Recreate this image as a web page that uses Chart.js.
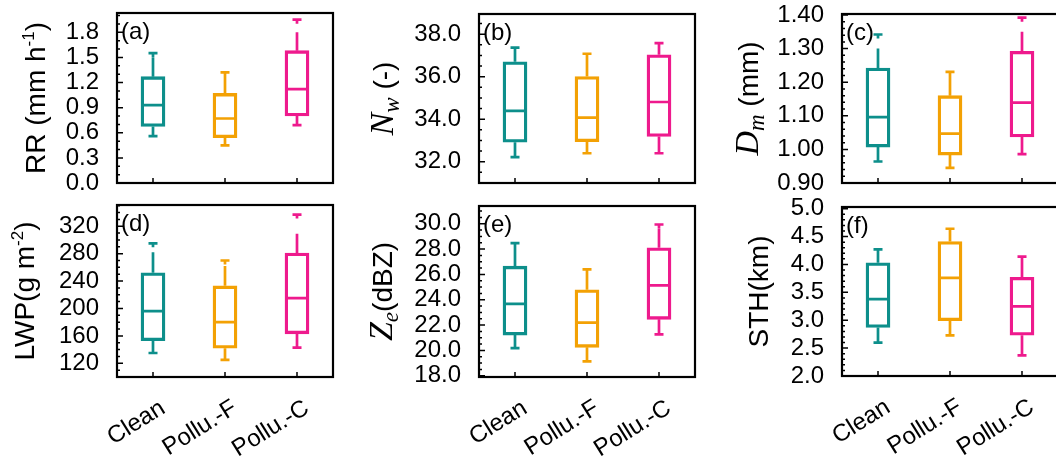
<!DOCTYPE html>
<html>
<head>
<meta charset="utf-8">
<script src="https://cdn.jsdelivr.net/npm/chart.js@4.4.1/dist/chart.umd.min.js"></script>
<style>
  html, body { margin: 0; padding: 0; background: #fff; overflow: hidden; width: 1056px; height: 457px; }
  .panel { position: absolute; }
</style>
</head>
<body>
<div class="panel" style="left:0;top:0;width:345px;height:195px"><canvas id="pa"></canvas></div>
<div class="panel" style="left:345px;top:0;width:360px;height:195px"><canvas id="pb"></canvas></div>
<div class="panel" style="left:705px;top:0;width:365px;height:195px"><canvas id="pc"></canvas></div>
<div class="panel" style="left:0;top:195px;width:345px;height:262px"><canvas id="pd"></canvas></div>
<div class="panel" style="left:345px;top:195px;width:360px;height:262px"><canvas id="pe"></canvas></div>
<div class="panel" style="left:705px;top:195px;width:365px;height:262px"><canvas id="pf"></canvas></div>
<script>
const categories = ["Clean", "Pollu.-F", "Pollu.-C"];
const boxColors = ["#0d8f8b", "#f3a104", "#ee1a8d"];

// per category: [lower whisker, Q1, median, Q3, upper whisker, top mark]
const rrBoxes = [[0.56, 0.675, 0.93, 1.27, 1.50, 1.55], [0.45, 0.54, 0.77, 1.07, 1.32, 1.32], [0.69, 0.80, 1.12, 1.58, 1.80, 1.95]];
const nwBoxes = [[32.22, 32.92, 34.39, 36.70, 37.37, 37.37], [32.40, 32.94, 34.08, 36.01, 37.08, 37.08], [32.40, 33.19, 34.81, 37.03, 37.58, 37.58]];
const dmBoxes = [[0.964, 1.007, 1.096, 1.242, 1.30, 1.342], [0.945, 0.983, 1.047, 1.16, 1.231, 1.231], [0.986, 1.037, 1.139, 1.292, 1.35, 1.392]];
const lwpBoxes = [[135, 153, 196, 252, 282, 295], [125, 142, 180, 233, 262, 270], [143, 163, 215, 281, 309, 337]];
const zeBoxes = [[20.18, 21.21, 23.68, 26.65, 28.47, 28.47], [19.13, 20.24, 22.19, 24.79, 26.39, 26.39], [21.26, 22.45, 25.13, 28.10, 29.6, 29.94]];
const sthBoxes = [[2.60, 2.87, 3.38, 4.03, 4.27, 4.27], [2.73, 2.99, 3.76, 4.41, 4.64, 4.64], [2.37, 2.73, 3.25, 3.77, 4.14, 4.14]];

const rrTicks = [0, 0.3, 0.6, 0.9, 1.2, 1.5, 1.8];
const nwTicks = [32, 34, 36, 38];
const dmTicks = [0.9, 1.0, 1.1, 1.2, 1.3, 1.4];
const lwpTicks = [120, 160, 200, 240, 280, 320];
const zeTicks = [18, 20, 22, 24, 26, 28, 30];
const sthTicks = [2.0, 2.5, 3.0, 3.5, 4.0, 4.5, 5.0];

const SANS = "'Liberation Sans', Arial, sans-serif";
const SERIF = "'Liberation Serif', 'Times New Roman', serif";
Chart.defaults.color = "#000";
Chart.defaults.font.family = SANS;

const sans = (s) => s + "px " + SANS;
const ital = (s) => "italic " + s + "px " + SERIF;

const panels = [
  { id: "pa", tag: "(a)", boxes: rrBoxes, ticks: rrTicks, min: 0, max: 2.03, minor: 0.1, digits: 1,
    area: [117, 13, 333, 183], origin: [0, 0], bottomRow: false, titleX: 45,
    title: [{ t: "RR (mm h", f: sans(28) }, { t: "-1", f: sans(17), dy: -11 }, { t: ")", f: sans(28) }] },
  { id: "pb", tag: "(b)", boxes: nwBoxes, ticks: nwTicks, min: 31, max: 38.95, minor: 0.5, digits: 1,
    area: [479, 14, 695, 183], origin: [345, 0], bottomRow: false, titleX: 48,
    title: [{ t: "N", f: ital(34) }, { t: "w", f: ital(23), dy: 6 }, { t: " (-)", f: sans(28) }] },
  { id: "pc", tag: "(c)", boxes: dmBoxes, ticks: dmTicks, min: 0.9, max: 1.403, minor: 0.02, digits: 2,
    area: [842, 14, 1058, 183], origin: [705, 0], bottomRow: false, titleX: 53,
    title: [{ t: "D", f: ital(34) }, { t: "m", f: ital(23), dy: 6 }, { t: " (mm)", f: sans(28) }] },
  { id: "pd", tag: "(d)", boxes: lwpBoxes, ticks: lwpTicks, min: 100, max: 351, minor: 10, digits: 0,
    area: [117, 205, 333, 377], origin: [0, 195], bottomRow: true, titleX: 34,
    title: [{ t: "LWP(g m", f: sans(28) }, { t: "-2", f: sans(17), dy: -11 }, { t: ")", f: sans(28) }] },
  { id: "pe", tag: "(e)", boxes: zeBoxes, ticks: zeTicks, min: 17.9, max: 31.4, minor: 0.5, digits: 1,
    area: [479, 206, 695, 377], origin: [345, 195], bottomRow: true, titleX: 47,
    title: [{ t: "Z", f: ital(34) }, { t: "e", f: ital(23), dy: 6 }, { t: "(dBZ)", f: sans(28) }] },
  { id: "pf", tag: "(f)", boxes: sthBoxes, ticks: sthTicks, min: 2.0, max: 5.03, minor: 0.1, digits: 1,
    area: [842, 207, 1058, 376], origin: [705, 195], bottomRow: true, titleX: 63,
    title: [{ t: "STH(km)", f: sans(28) }] },
];

function drawVerticalTitle(ctx, segs, baseX, cy) {
  ctx.save();
  let total = 0;
  const widths = segs.map((s) => { ctx.font = s.f; const w = ctx.measureText(s.t).width; total += w; return w; });
  ctx.translate(baseX, cy);
  ctx.rotate(-Math.PI / 2);
  ctx.fillStyle = "#000";
  ctx.textBaseline = "alphabetic";
  ctx.textAlign = "left";
  let x = -total / 2;
  segs.forEach((s, i) => {
    ctx.font = s.f;
    ctx.fillText(s.t, x, s.dy || 0);
    x += widths[i];
  });
  ctx.restore();
}

function boxPlugin(p) {
  return {
    id: "boxPanel",
    afterDatasetsDraw(chart) {
      const ctx = chart.ctx;
      const xs = chart.scales.x, ys = chart.scales.y;
      ctx.save();
      ctx.lineWidth = 2.7;
      ctx.lineCap = "butt";
      p.boxes.forEach((b, i) => {
        const x = xs.getPixelForValue(i);
        const py = (v) => ys.getPixelForValue(v);
        ctx.strokeStyle = boxColors[i];
        ctx.beginPath();
        // median
        ctx.moveTo(x - 12, py(b[2])); ctx.lineTo(x + 12, py(b[2]));
        // lower whisker + cap
        ctx.moveTo(x, py(b[1])); ctx.lineTo(x, py(b[0]));
        ctx.moveTo(x - 4.5, py(b[0])); ctx.lineTo(x + 4.5, py(b[0]));
        // upper whisker
        ctx.moveTo(x, py(b[3])); ctx.lineTo(x, py(b[4]));
        // top mark
        ctx.moveTo(x - 4.5, py(b[5])); ctx.lineTo(x + 4.5, py(b[5]));
        ctx.moveTo(x, py(b[5])); ctx.lineTo(x, py(b[5]) + 4);
        ctx.stroke();
      });
      ctx.restore();
    },
    afterDraw(chart) {
      const ctx = chart.ctx;
      const a = chart.chartArea;
      const xs = chart.scales.x, ys = chart.scales.y;
      ctx.save();
      ctx.strokeStyle = "#000";
      // ticks, inward
      ctx.lineWidth = 1.5;
      ctx.beginPath();
      p.ticks.forEach((v) => {
        const y = ys.getPixelForValue(v);
        ctx.moveTo(a.left, y); ctx.lineTo(a.left + 6, y);
      });
      const start = Math.ceil(p.min / p.minor - 1e-6);
      for (let k = start; k * p.minor <= p.max + 1e-9; k++) {
        const v = k * p.minor;
        if (p.ticks.some((t) => Math.abs(t - v) < p.minor / 10)) continue;
        const y = ys.getPixelForValue(v);
        ctx.moveTo(a.left, y); ctx.lineTo(a.left + 3, y);
      }
      categories.forEach((c, i) => {
        const x = xs.getPixelForValue(i);
        ctx.moveTo(x, a.bottom); ctx.lineTo(x, a.bottom - 5);
      });
      ctx.stroke();
      // frame
      ctx.lineWidth = 2.2;
      ctx.strokeRect(a.left, a.top, a.right - a.left, a.bottom - a.top);
      // panel tag
      ctx.fillStyle = "#000";
      ctx.font = sans(24);
      ctx.textBaseline = "top";
      ctx.textAlign = "left";
      ctx.fillText(p.tag, a.left + 4, a.top + 7);
      ctx.restore();
      drawVerticalTitle(ctx, p.title, p.titleX, (a.top + a.bottom) / 2);
    },
  };
}

panels.forEach((p) => {
  const el = document.getElementById(p.id);
  const w = el.parentNode.clientWidth, h = el.parentNode.clientHeight;
  const left = p.area[0] - p.origin[0];
  const top = p.area[1] - p.origin[1];
  const right = w - (p.area[2] - p.origin[0]);
  const xHeight = h - (p.area[3] - p.origin[1]);
  new Chart(el, {
    type: "bar",
    data: {
      labels: categories,
      datasets: [{
        data: p.boxes.map((b) => [b[1], b[3]]),
        borderColor: boxColors,
        backgroundColor: "rgba(255,255,255,0)",
        borderWidth: 2.7,
        borderSkipped: false,
        barThickness: 24,
      }],
    },
    options: {
      responsive: true,
      maintainAspectRatio: false,
      animation: false,
      events: [],
      layout: { padding: { left: 0, top: top, right: right, bottom: 0 } },
      plugins: { legend: { display: false }, tooltip: { enabled: false } },
      scales: {
        x: {
          grid: { display: false, drawTicks: false },
          border: { display: false },
          afterFit(scale) {
            scale.height = xHeight;
            scale.paddingLeft = 0; scale.paddingRight = 0;
            scale.paddingTop = 0; scale.paddingBottom = 0;
          },
          ticks: {
            display: p.bottomRow,
            autoSkip: false,
            minRotation: 32,
            maxRotation: 32,
            padding: 17,
            labelOffset: 10,
            font: { size: 24 },
          },
        },
        y: {
          min: p.min,
          max: p.max,
          grid: { display: false, drawTicks: false },
          border: { display: false },
          afterFit(scale) {
            scale.width = left;
            scale.paddingLeft = 0; scale.paddingRight = 0;
            scale.paddingTop = 0; scale.paddingBottom = 0;
          },
          afterBuildTicks(scale) { scale.ticks = p.ticks.map((v) => ({ value: v })); },
          ticks: {
            autoSkip: false,
            padding: 18,
            font: { size: 24 },
            callback: (v) => Number(v).toFixed(p.digits),
          },
        },
      },
    },
    plugins: [boxPlugin(p)],
  });
});
</script>
</body>
</html>
